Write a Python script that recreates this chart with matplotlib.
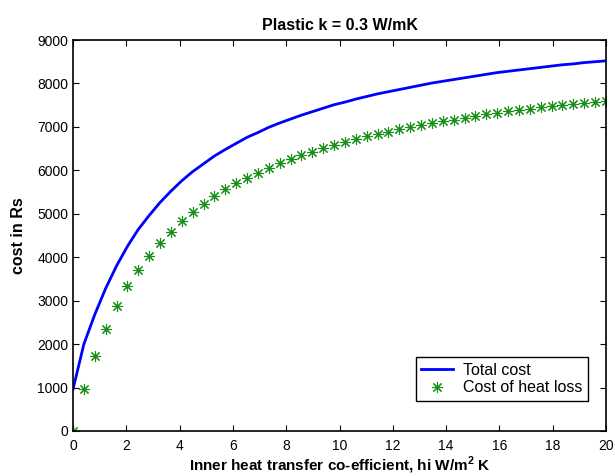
import numpy as np
import matplotlib
matplotlib.use("Agg")
import matplotlib.pyplot as plt

plt.rcParams['font.family'] = ['Liberation Sans', 'DejaVu Sans']
plt.rcParams['mathtext.fontset'] = 'custom'
plt.rcParams['mathtext.bf'] = 'Liberation Sans:bold'
plt.rcParams['mathtext.rm'] = 'Liberation Sans'

# Inner heat transfer coefficient grid (50 points from 0 to 20)
hi = np.linspace(0, 20, 50)

total_cost = [960, 2000, 2680, 3280, 3800, 4250, 4640, 4960, 5260, 5520,
              5760, 5970, 6150, 6330, 6480, 6620, 6760, 6870, 6990, 7090,
              7180, 7270, 7350, 7430, 7510, 7570, 7640, 7700, 7760, 7810,
              7860, 7910, 7960, 8010, 8050, 8090, 8130, 8170, 8210, 8250,
              8280, 8310, 8340, 8370, 8400, 8430, 8450, 8480, 8500, 8520]

heat_loss_cost = [0, 960, 1720, 2350, 2880, 3330, 3710, 4030, 4330, 4590,
                  4830, 5040, 5230, 5400, 5560, 5700, 5830, 5940, 6060, 6170,
                  6260, 6350, 6430, 6510, 6590, 6650, 6720, 6780, 6840, 6890,
                  6940, 6990, 7040, 7090, 7130, 7170, 7210, 7250, 7290, 7330,
                  7360, 7390, 7420, 7450, 7480, 7510, 7530, 7560, 7580, 7600]

xticks = list(range(0, 21, 2))
yticks = list(range(0, 9001, 1000))

fig = plt.figure(figsize=(6.15, 4.76), dpi=100)
ax = fig.add_axes([73/615, 45/476, 533/615, 391/476])

ax.plot(hi, total_cost, color='#0000ff', lw=2, label='Total cost')
ax.plot(hi, heat_loss_cost, ls='none', marker=(8, 2, 0), color='#189018',
        markersize=8, markeredgewidth=0.8, label='Cost of heat loss')

ax.set_xlim(0, 20)
ax.set_ylim(0, 9000)
ax.set_xticks(xticks)
ax.set_yticks(yticks)
ax.tick_params(direction='in', top=True, right=True, labelsize=10, length=4, width=0.8)
ax.tick_params(axis='x', pad=5.5)
for s in ax.spines.values():
    s.set_linewidth(1.2)

ax.set_title('Plastic k = 0.3 W/mK', fontsize=11.5, fontweight='bold', pad=7)
ax.set_xlabel(r'Inner heat transfer co-efficient, hi W/m$^{\mathbf{2}}$ K',
              fontsize=11, fontweight='bold', labelpad=1.5)
ax.set_ylabel('cost in Rs', fontsize=11.5, fontweight='bold', labelpad=8)

leg = ax.legend(loc='lower right', bbox_to_anchor=(0.966, 0.077), fontsize=11.5,
                fancybox=False, edgecolor='black', framealpha=1,
                handlelength=2.0, handletextpad=0.6, borderpad=0.35,
                labelspacing=0.15, borderaxespad=0)
leg.get_frame().set_linewidth(1.0)

fig.savefig('out.png', dpi=100)
